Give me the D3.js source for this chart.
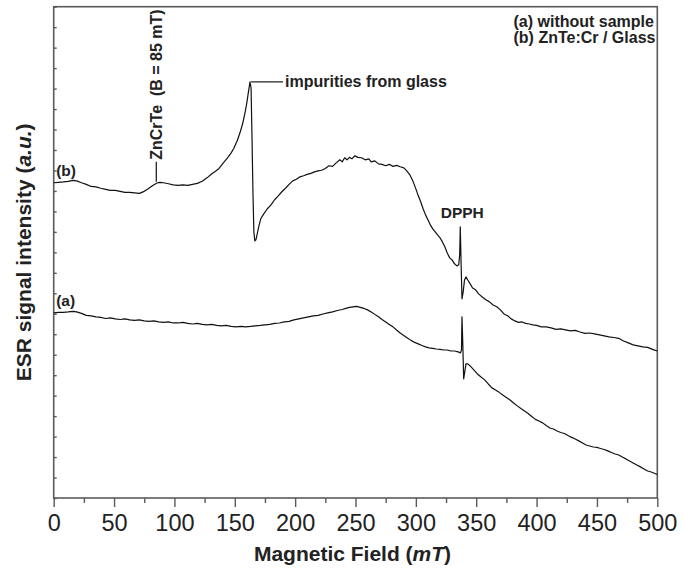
<!DOCTYPE html>
<html>
<head>
<meta charset="utf-8">
<script src="https://cdn.jsdelivr.net/npm/d3@7"></script>
<style>
  html, body { margin: 0; padding: 0; background: #fff; }
  svg { display: block; font-family: "Liberation Sans", Arial, sans-serif; }
</style>
</head>
<body>
<svg id="chart" width="684" height="570"></svg>
<script>
// ESR spectra: (a) empty cavity, (b) ZnTe:Cr film on glass. Field in mT, intensity in a.u.
const traceA = [
  [0,9.04],[4,9.07],[8,9.07],[12,9.09],[16,9.12],[19,9.09],[23,9.02],[27,8.92],[31,8.90],[35,8.85],
  [39,8.82],[43,8.77],[47,8.80],[51,8.75],[55,8.72],[59,8.75],[63,8.70],[67,8.68],[71,8.70],[75,8.65],
  [79,8.63],[83,8.65],[87,8.60],[91,8.58],[95,8.60],[99,8.55],[103,8.55],[107,8.58],[111,8.53],[115,8.50],
  [119,8.53],[123,8.48],[127,8.46],[131,8.48],[135,8.43],[139,8.41],[143,8.43],[147,8.38],[151,8.36],[155,8.38],
  [159,8.36],[163,8.38],[167,8.41],[171,8.43],[175,8.46],[179,8.48],[183,8.53],[187,8.55],[191,8.60],[195,8.63],
  [199,8.70],[203,8.75],[207,8.80],[211,8.85],[215,8.90],[219,8.92],[223,8.99],[227,9.04],[231,9.09],[235,9.16],
  [239,9.21],[242,9.26],[245,9.31],[248,9.34],[251,9.36],[254,9.31],[257,9.26],[260,9.19],[263,9.09],[266,8.97],
  [269,8.85],[272,8.72],[275,8.60],[278,8.48],[281,8.36],[284,8.21],[287,8.06],[290,7.94],[293,7.82],[296,7.70],
  [299,7.60],[302,7.53],[305,7.45],[308,7.38],[311,7.33],[314,7.31],[317,7.28],[320,7.26],[323,7.23],[326,7.23],
  [329,7.18],[332,7.18],[335,7.14],[337,7.09],[337.8,7.23],[338.2,8.85],[338.9,7.48],[339.6,5.82],[340.5,6.16],[341.5,6.55],
  [343,6.55],[345,6.45],[348,6.26],[351,6.06],[354,5.91],[357,5.77],[360,5.57],[363,5.38],[366,5.28],[369,5.16],
  [372,5.03],[375,4.91],[378,4.79],[381,4.64],[384,4.50],[387,4.37],[390,4.25],[393,4.13],[396,3.98],[399,3.84],
  [402,3.76],[405,3.67],[408,3.54],[411,3.42],[414,3.37],[417,3.27],[420,3.20],[423,3.15],[426,3.05],[429,2.96],
  [432,2.88],[435,2.79],[438,2.69],[441,2.59],[444,2.54],[447,2.49],[450,2.47],[453,2.42],[456,2.37],[459,2.30],
  [462,2.22],[465,2.15],[468,2.10],[471,2.00],[474,1.91],[477,1.81],[480,1.71],[483,1.61],[486,1.52],[489,1.42],
  [492,1.32],[495,1.27],[498,1.20],[500,1.15]
];

const traceB = [
  [0,15.40],[4,15.42],[8,15.44],[12,15.47],[16,15.52],[19,15.49],[23,15.40],[27,15.32],[31,15.22],[35,15.20],
  [39,15.13],[43,15.08],[47,15.03],[51,15.03],[55,14.98],[59,14.93],[63,14.93],[67,14.91],[71,14.88],[75,14.98],
  [78,15.10],[82,15.27],[86,15.40],[88,15.42],[91,15.40],[95,15.35],[99,15.30],[103,15.27],[107,15.30],[111,15.27],
  [115,15.32],[119,15.37],[123,15.47],[127,15.64],[131,15.84],[134,15.96],[137,16.10],[140.5,16.37],[144,16.62],[147,16.86],
  [149,17.06],[152,17.45],[154.3,17.84],[156.5,18.28],[158.5,18.82],[160,19.31],[161.2,19.79],[162.6,20.33],[163.5,20.04],[164.3,17.50],
  [165.1,14.81],[165.8,13.00],[166.6,12.56],[167.5,12.61],[168.6,12.90],[170,13.29],[171.5,13.64],[174,13.88],[177,14.13],[180,14.32],
  [183,14.57],[186,14.76],[189,14.96],[192,15.13],[195,15.32],[198,15.49],[201,15.57],[204,15.69],[207,15.74],[210,15.81],
  [213,15.86],[216,15.93],[219,15.98],[222,16.01],[225,16.10],[228,16.23],[231,16.20],[234,16.37],[237,16.52],[239,16.42],
  [241,16.62],[243,16.52],[245,16.64],[247,16.57],[249.5,16.72],[252,16.64],[255,16.62],[258,16.52],[261,16.57],[263,16.42],
  [266,16.47],[269,16.32],[272,16.30],[275,16.23],[278,16.30],[281,16.20],[284,16.25],[287,16.18],[290,16.13],[292.5,15.98],
  [295,15.79],[297.5,15.49],[300,15.10],[302,14.76],[304,14.47],[306,14.13],[308,13.83],[310,13.59],[312,13.34],[314,13.15],
  [316,13.00],[318,12.85],[320,12.71],[322,12.51],[324,12.27],[326,11.97],[328,11.73],[330,11.63],[332,11.44],[334,11.34],
  [335.5,11.39],[336.3,11.88],[336.8,13.25],[337.5,11.39],[338.2,9.73],[339.2,10.07],[340.3,10.65],[341.5,10.80],[343,10.65],[345,10.46],
  [347,10.26],[349.5,10.17],[352,9.97],[355,9.82],[358,9.68],[361,9.58],[364,9.43],[367,9.34],[370,9.19],[373,8.99],
  [376,8.90],[379,8.75],[382,8.65],[385,8.58],[388,8.60],[391,8.53],[394,8.50],[397,8.46],[400,8.43],[404,8.36],
  [408,8.36],[412,8.31],[416,8.24],[420,8.26],[424,8.21],[428,8.16],[432,8.19],[436,8.11],[440,8.04],[444,8.06],
  [448,8.02],[452,7.97],[456,7.92],[460,7.87],[464,7.84],[468,7.80],[472,7.67],[476,7.58],[480,7.48],[484,7.43],
  [488,7.38],[492,7.36],[496,7.26],[500,7.18]
];

const xMajorTicks = [0, 50, 100, 150, 200, 250, 300, 350, 400, 450, 500];
const xMinorTicks = [25, 75, 125, 175, 225, 275, 325, 375, 425, 475];
const yTicks = d3.range(0, 25, 1);

const legendLines = ["(a) without sample", "(b) ZnTe:Cr / Glass"];
const curveLabels = ["(a)", "(b)"];
const znCrTeField = 85;          // mT
const impurityPeakField = 162.6; // mT
const dpphField = 336.8;         // mT

const svg = d3.select("#chart");
const plot = { left: 53.7, right: 657.3, top: 6.7, bottom: 498 };

const x = d3.scaleLinear().domain([0, 500]).range([plot.left, plot.right]);
const y = d3.scaleLinear().domain([0, 24]).range([plot.bottom, plot.top]);

const axisColor = "#5a5a5a";

// bottom axis: major ticks with labels, minor ticks without
const xAxis = svg.append("g")
  .attr("transform", `translate(0,${plot.bottom})`)
  .call(d3.axisBottom(x).tickValues(xMajorTicks).tickSize(9).tickSizeOuter(0).tickPadding(7));
xAxis.select(".domain").remove();
xAxis.selectAll(".tick line").attr("stroke", axisColor).attr("stroke-width", 1.4);
xAxis.selectAll(".tick text")
  .attr("fill", "#222")
  .style("font-size", "23.5px")
  .style("font-family", "'Liberation Sans Narrow', 'Arial Narrow', sans-serif");

const xMinor = svg.append("g")
  .attr("transform", `translate(0,${plot.bottom})`)
  .call(d3.axisBottom(x).tickValues(xMinorTicks).tickSize(5).tickSizeOuter(0).tickFormat(""));
xMinor.select(".domain").remove();
xMinor.selectAll(".tick line").attr("stroke", axisColor).attr("stroke-width", 1.4);

// left axis: short inward ticks, no labels
const yAxis = svg.append("g")
  .attr("transform", `translate(${plot.left},0)`)
  .call(d3.axisLeft(y).tickValues(yTicks).tickSize(-3).tickSizeOuter(0).tickFormat(""));
yAxis.select(".domain").remove();
yAxis.selectAll(".tick line").attr("stroke", axisColor).attr("stroke-width", 1.4);

// plot frame
svg.append("rect")
  .attr("x", plot.left).attr("y", plot.top)
  .attr("width", plot.right - plot.left).attr("height", plot.bottom - plot.top)
  .attr("fill", "none").attr("stroke", axisColor).attr("stroke-width", 1.6);

// spectra
const line = d3.line().x(d => x(d[0])).y(d => y(d[1]));
[traceA, traceB].forEach(tr => {
  svg.append("path")
    .datum(tr)
    .attr("d", line)
    .attr("fill", "none")
    .attr("stroke", "#111")
    .attr("stroke-width", 1.2)
    .attr("stroke-linejoin", "round");
});

const bold = "bold";

// curve labels
[[traceA, curveLabels[0]], [traceB, curveLabels[1]]].forEach(([tr, lab]) => {
  svg.append("text")
    .attr("x", x(0) + 2.5)
    .attr("y", y(tr[0][1]) - 6.5)
    .attr("font-size", 15.5).attr("font-weight", bold).attr("fill", "#222")
    .text(lab);
});

// legend text, top right
legendLines.forEach((t, i) => {
  svg.append("text")
    .attr("x", 513.5)
    .attr("y", 26.5 + i * 16.8)
    .attr("font-size", 16).attr("font-weight", bold).attr("fill", "#222")
    .text(t);
});

// value of trace (b) at the sample nearest a given field
const bAt = (f) => {
  let best = traceB[0];
  traceB.forEach(p => { if (Math.abs(p[0] - f) < Math.abs(best[0] - f)) best = p; });
  return best[1];
};

// ZnCrTe marker
const zx = x(znCrTeField);
svg.append("line")
  .attr("x1", zx).attr("x2", zx)
  .attr("y1", y(bAt(znCrTeField)) - 1).attr("y2", y(bAt(znCrTeField)) - 21)
  .attr("stroke", "#222").attr("stroke-width", 1.3);
svg.append("text")
  .attr("transform", `translate(${zx + 5.8},${y(bAt(znCrTeField)) - 23}) rotate(-90)`)
  .attr("font-size", 16).attr("font-weight", bold).attr("fill", "#222")
  .attr("xml:space", "preserve")
  .style("white-space", "pre")
  .text("ZnCrTe  (B = 85 mT)");

// impurity leader
const impY = y(bAt(impurityPeakField));
svg.append("line")
  .attr("x1", x(impurityPeakField) + 1).attr("x2", x(impurityPeakField) + 33)
  .attr("y1", impY).attr("y2", impY)
  .attr("stroke", "#222").attr("stroke-width", 1.3);
svg.append("text")
  .attr("x", x(impurityPeakField) + 35)
  .attr("y", impY + 5.5)
  .attr("font-size", 16).attr("font-weight", bold).attr("fill", "#222")
  .text("impurities from glass");

// DPPH reference label
svg.append("text")
  .attr("x", x(dpphField) + 2)
  .attr("y", y(bAt(dpphField)) - 9)
  .attr("text-anchor", "middle")
  .attr("font-size", 15.5).attr("font-weight", bold).attr("fill", "#222")
  .text("DPPH");

// axis titles
const xt = svg.append("text")
  .attr("x", (plot.left + plot.right) / 2 - 3)
  .attr("y", 561)
  .attr("text-anchor", "middle")
  .attr("font-size", 21).attr("font-weight", bold).attr("fill", "#222");
xt.append("tspan").text("Magnetic Field (");
xt.append("tspan").attr("font-style", "italic").text("mT");
xt.append("tspan").text(")");

const yt = svg.append("text")
  .attr("transform", `translate(31,${(plot.top + plot.bottom) / 2}) rotate(-90)`)
  .attr("text-anchor", "middle")
  .attr("font-size", 21).attr("font-weight", bold).attr("fill", "#222");
yt.append("tspan").text("ESR signal intensity (");
yt.append("tspan").attr("font-style", "italic").text("a.u.");
yt.append("tspan").text(")");
</script>
</body>
</html>
